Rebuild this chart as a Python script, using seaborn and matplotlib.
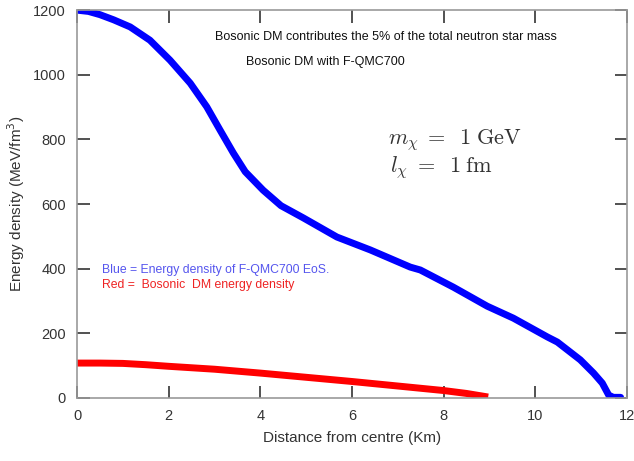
import seaborn as sns
import matplotlib.pyplot as plt
import pandas as pd

sns.set_style("white")
plt.rcParams['font.family'] = ['Liberation Sans', 'DejaVu Sans']
plt.rcParams['mathtext.fontset'] = 'cm'

# F-QMC700 EoS energy density (blue)
r_ns = [0, 0.25, 0.5, 0.8, 1.16, 1.59, 2.03, 2.47, 2.83, 3.12, 3.41, 3.67, 4.06, 4.45, 4.94, 5.67,
        6.4, 7.27, 7.49, 8.21, 8.95, 9.52, 10.26, 10.48, 10.98, 11.27, 11.46, 11.6, 11.7, 11.86]
e_ns = [1200, 1196, 1186, 1170, 1148, 1107, 1045, 974, 901, 829, 758, 700, 643, 595, 557, 498,
        458, 405, 396, 343, 284, 247, 189, 173, 118, 77, 46, 9, 2, 2]
# bosonic DM energy density (red)
r_dm = [0, 0.5, 1.0, 1.5, 2.0, 3.0, 4.0, 5.0, 6.0, 7.0, 8.0, 8.5, 8.97]
e_dm = [108, 108, 107, 103, 98, 89, 77, 64, 51, 37, 23, 14, 3]

blue = pd.DataFrame({'r': r_ns, 'e': e_ns})
red = pd.DataFrame({'r': r_dm, 'e': e_dm})

fig = plt.figure(figsize=(6.34, 4.61), dpi=100)
ax = fig.add_axes([0.1215, 0.1367, 0.8675, 0.8413])

sns.lineplot(data=blue, x='r', y='e', color='#0000ff', lw=5, ax=ax, sort=False,
             solid_joinstyle='round', solid_capstyle='round')
sns.lineplot(data=red, x='r', y='e', color='#ff0000', lw=5, ax=ax, sort=False,
             solid_joinstyle='round', solid_capstyle='butt')

ax.set_xlim(0, 12)
ax.set_ylim(0, 1200)
ax.set_xticks([0, 2, 4, 6, 8, 10, 12])
ax.set_yticks([0, 200, 400, 600, 800, 1000, 1200])
ax.tick_params(direction='in', length=9, width=1.2, color='#333333', labelsize=10.5,
               labelcolor='#333333', top=True, right=True, bottom=True, left=True, pad=8)
for s in ax.spines.values():
    s.set_color('#999999')
    s.set_linewidth(1.2)

ax.set_xlabel('Distance from centre (Km)', fontsize=11, color='#333333', labelpad=6)
ax.set_ylabel('Energy density (MeV/fm$^3$)', fontsize=11, color='#333333', labelpad=4)
ax.yaxis.label.set_math_fontfamily('dejavusans')

ax.text(215, 37, 'Bosonic DM contributes the 5% of the total neutron star mass', transform=None,
        fontsize=9, color='#111111', va='center')
ax.text(246, 62, 'Bosonic DM with F-QMC700', transform=None, fontsize=9, color='#111111', va='center')
ax.text(388, 140, r'$m_\chi\;=\;\;1\;\mathrm{GeV}$', transform=None, fontsize=16, color='#333333', va='center')
ax.text(390, 168, r'$l_\chi\;=\;\;1\;\mathrm{fm}$', transform=None, fontsize=16, color='#333333', va='center')
ax.text(102, 270, 'Blue = Energy density of F-QMC700 EoS.', transform=None, fontsize=8.8, color='#5555ee', va='center')
ax.text(102, 285, 'Red =  Bosonic  DM energy density', transform=None, fontsize=8.8, color='#ee2222', va='center')

# texts given in pixel coords from the top -> convert
for t in ax.texts:
    x, y = t.get_position()
    t.set_transform(fig.transFigure)
    t.set_position((x / 634, 1 - y / 461))

fig.savefig('out.png', dpi=100)
